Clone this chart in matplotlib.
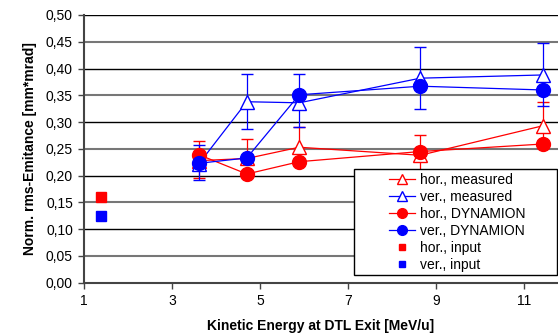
import matplotlib
matplotlib.use("Agg")
import matplotlib.pyplot as plt
from matplotlib.patches import Rectangle
from matplotlib.ticker import FuncFormatter

plt.rcParams['font.family'] = ['Liberation Sans', 'DejaVu Sans']

# energies at DTL exit [MeV/u]
energy = [3.61, 4.70, 5.89, 8.64, 11.42]

# measured emittances with error bars (lower, upper)
hor_meas = [0.228, 0.232, 0.253, 0.238, 0.293]
hor_err_lo = [0.033, 0.010, 0.030, 0.030, 0.035]
hor_err_hi = [0.037, 0.036, 0.038, 0.037, 0.045]
ver_meas = [0.222, 0.338, 0.336, 0.382, 0.388]
ver_err_lo = [0.030, 0.050, 0.046, 0.058, 0.058]
ver_err_hi = [0.035, 0.052, 0.053, 0.058, 0.059]

# DYNAMION simulation
hor_dyn = [0.239, 0.203, 0.226, 0.245, 0.259]
ver_dyn = [0.223, 0.233, 0.351, 0.367, 0.360]

# input emittances
input_energy = [1.39]
hor_input = [0.161]
ver_input = [0.125]

red = '#ff0000'
blue = '#0000ff'

fig = plt.figure(figsize=(5.58, 3.36), dpi=100)
ax = fig.add_axes([84/558, (336-282.7)/336, (558-84)/558, (282.7-15)/336])

# error bars of the measurements
ax.errorbar(energy, hor_meas, yerr=[hor_err_lo, hor_err_hi], fmt='none', ecolor=red,
            elinewidth=0.9, capsize=4, capthick=1.0, zorder=3)
ax.errorbar(energy, ver_meas, yerr=[ver_err_lo, ver_err_hi], fmt='none', ecolor=blue,
            elinewidth=0.9, capsize=4, capthick=1.0, zorder=4)

ax.plot(energy, hor_meas, color=red, lw=0.9, marker='^', ms=10, mfc='white', mec=red,
        mew=1.0, label='hor., measured', zorder=3)
ax.plot(energy, ver_meas, color=blue, lw=0.9, marker='^', ms=10, mfc='white', mec=blue,
        mew=1.0, label='ver., measured', zorder=4)
ax.plot(energy, hor_dyn, color=red, lw=0.9, marker='o', ms=10, label='hor., DYNAMION', zorder=5)
ax.plot(energy, ver_dyn, color=blue, lw=0.9, marker='o', ms=10, label='ver., DYNAMION', zorder=6)
ax.plot(input_energy, hor_input, ls='none', marker='s', ms=7, color=red, label='hor., input', zorder=5)
ax.plot(input_energy, ver_input, ls='none', marker='s', ms=7, color=blue, label='ver., input', zorder=5)

ax.set_xlim(1, 11.77)
ax.set_ylim(0, 0.5)
ax.set_xticks([1, 3, 5, 7, 9, 11])
ax.set_yticks([i*0.05 for i in range(11)])
ax.yaxis.set_major_formatter(FuncFormatter(lambda v, p: ('%.2f' % v).replace('.', ',')))
ax.tick_params(labelsize=10, direction='out', length=4, width=1, color='#444444', pad=4)

ax.grid(axis='y', lw=1.2, zorder=0)
for i, g in enumerate(ax.yaxis.get_gridlines()):
    g.set_color('black' if i % 2 == 0 else '#777777')
    g.set_linewidth(1.0 if i % 2 == 0 else 1.5)
ax.set_axisbelow(True)

for s in ['right', 'top']:
    ax.spines[s].set_visible(False)
ax.spines['left'].set_color('#444444')
ax.spines['left'].set_linewidth(1.5)
ax.spines['bottom'].set_color('#444444')
ax.spines['bottom'].set_linewidth(1.5)

ax.set_xlabel('Kinetic Energy at DTL Exit [MeV/u]', fontsize=10, fontweight='bold', labelpad=8)
ax.set_ylabel('Norm. rms-Emitance [mm*mrad]', fontsize=10, fontweight='bold', labelpad=6)

# legend box (frame drawn separately so the entries sit centred in it)
bx0, bx1 = (354-84)/474, (557-84)/474
by0, by1 = (282.7-275)/267.7, (282.7-169.3)/267.7
frame = Rectangle((bx0, by0), bx1-bx0, by1-by0, transform=ax.transAxes, facecolor='white',
                  edgecolor='black', lw=1.0, clip_on=False, zorder=9)
ax.add_patch(frame)
leg = ax.legend(loc='center', bbox_to_anchor=((bx0+bx1)/2 + 0.004, (by0+by1)/2),
                fontsize=10, frameon=False, borderaxespad=0, handlelength=1.9,
                handletextpad=0.35, labelspacing=0.22, borderpad=0.0, markerscale=0.7)
leg.set_zorder(10)

fig.savefig('out.png', dpi=100)
